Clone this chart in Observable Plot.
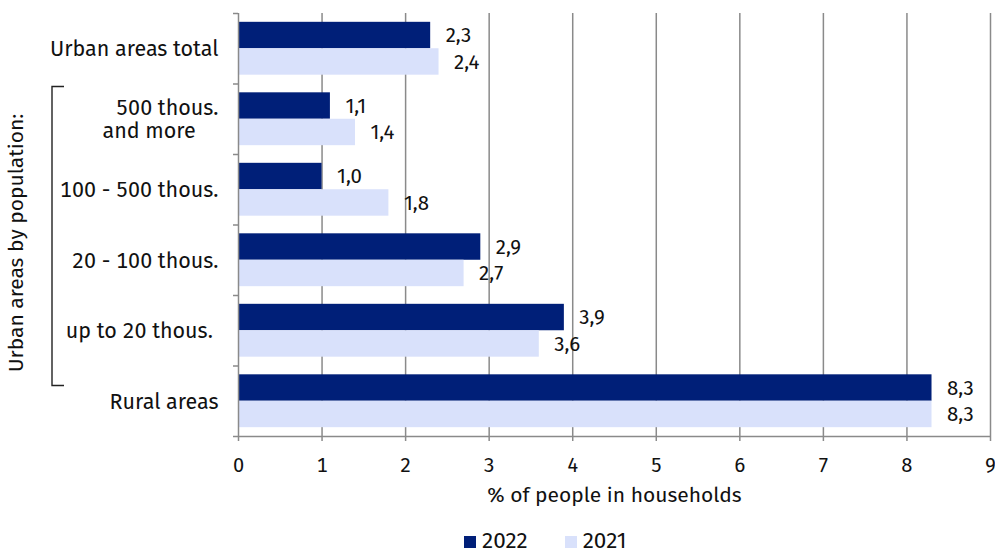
<!DOCTYPE html>
<html>
<head>
<meta charset="utf-8">
<script src="https://cdn.jsdelivr.net/npm/d3@7"></script>
<script src="https://cdn.jsdelivr.net/npm/@observablehq/plot@0.6"></script>
<style>
  body { margin: 0; background: #fff; font-family: "Fira Sans", Roboto, sans-serif; }
  #wrap { position: relative; width: 995px; height: 554px; }
  #legend { position: absolute; left: 464px; top: 530px; display: flex; align-items: center; font-size: 22.5px; line-height: 22px; color: #111; }
  #legend span.sw { display: inline-block; width: 12px; height: 12px; margin-right: 6px; margin-top: 2px; }
  #legend .item { display: flex; align-items: center; margin-right: 37px; }
</style>
</head>
<body>
<div id="wrap"><div id="chart"></div><div id="legend"></div></div>
<script>
const categories = ["Urban areas total", "500 thous.\nand more\u00a0\u00a0\u00a0\u00a0", "100 - 500 thous.", "20 - 100 thous.", "up to 20 thous.\u00a0", "Rural areas"];
const values2022 = [2.3, 1.1, 1.0, 2.9, 3.9, 8.3];
const values2021 = [2.4, 1.4, 1.8, 2.7, 3.6, 8.3];
const seriesNames = ["2022", "2021"];
const seriesColors = ["#001f78", "#d9e1fb"];
const xTicks = [0, 1, 2, 3, 4, 5, 6, 7, 8, 9];
const xLabel = "% of people in households";
const groupLabel = "Urban areas by population:";
const groupRows = [1, 4]; // first and last row of the bracketed group

const n = categories.length;
// row k (0 = top) occupies y in [n-k-1, n-k]
const rows = [];
categories.forEach((c, k) => {
  rows.push({cat: c, k, series: "2022", value: values2022[k], y1: n - k - 0.125, y2: n - k - 0.5, ym: n - k - 0.3125});
  rows.push({cat: c, k, series: "2021", value: values2021[k], y1: n - k - 0.5, y2: n - k - 0.875, ym: n - k - 0.6875});
});
const fmt = v => v.toFixed(1).replace(".", ",");
const grey = "#8a8a8a";

const plot = Plot.plot({
  width: 995,
  height: 524,
  marginLeft: 238,
  marginRight: 5,
  marginTop: 13,
  marginBottom: 88,
  style: {fontFamily: '"Fira Sans", Roboto, sans-serif', fontSize: "20px", color: "#111", background: "#fff"},
  x: {type: "linear", domain: [0, 9], axis: null},
  y: {type: "linear", domain: [0, n], axis: null},
  color: {domain: seriesNames, range: seriesColors},
  marks: [
    Plot.ruleX(xTicks.slice(1), {stroke: grey, strokeWidth: 1.5, strokeOpacity: 1}),
    Plot.rect(rows, {x1: 0, x2: "value", y1: "y1", y2: "y2", fill: "series"}),
    Plot.ruleX([0], {stroke: grey, strokeWidth: 1.5, strokeOpacity: 1}),
    Plot.ruleY([0], {stroke: grey, strokeWidth: 1.5, strokeOpacity: 1}),
    Plot.axisX({ticks: xTicks, tickSize: 5, tickPadding: 16, stroke: grey, strokeWidth: 1.5, strokeOpacity: 1, fontSize: 20, fill: "#111", label: null, tickFormat: d => String(d)}),
    Plot.axisY({ticks: d3.range(0, n + 1), tickSize: 5, tickFormat: () => "", stroke: grey, strokeWidth: 1.5, strokeOpacity: 1, label: null}),
    Plot.axisY({ticks: d3.range(0, n).map(i => i + 0.5), tickSize: 0, tickPadding: 20, fontSize: 21.5, lineHeight: 1.09, fill: "#111",
      tickFormat: d => categories[n - 1 - Math.floor(d)], label: null}),
    Plot.text(rows, {x: "value", y: "ym", text: d => fmt(d.value), textAnchor: "start", dx: 15, fontSize: 20.5, fill: "#111"}),
    Plot.text([xLabel], {frameAnchor: "bottom", dy: 65, fontSize: 21, fill: "#111"})
  ]
});
document.getElementById("chart").appendChild(plot);

// bracket and rotated group label, positioned with the plot's own y scale
const ys = plot.scale("y");
const yTop = ys.apply(n - groupRows[0]) + 3;
const yBot = ys.apply(n - groupRows[1] - 1) + 20;
const svg = d3.select(plot);
const bx = 52;
svg.append("path")
  .attr("d", `M${bx + 12},${yTop} H${bx} V${yBot} H${bx + 12}`)
  .attr("fill", "none").attr("stroke", "#222").attr("stroke-width", 1.4);
svg.append("text")
  .attr("transform", `translate(${bx - 35},${(yTop + yBot) / 2 + 7}) rotate(-90)`)
  .attr("text-anchor", "middle").attr("dominant-baseline", "middle")
  .attr("font-size", 21).attr("fill", "#111")
  .text(groupLabel);

// legend
const lg = d3.select("#legend");
seriesNames.forEach((s, i) => {
  const it = lg.append("div").attr("class", "item");
  it.append("span").attr("class", "sw").style("background", seriesColors[i]);
  it.append("span").text(s);
});
</script>
</body>
</html>
